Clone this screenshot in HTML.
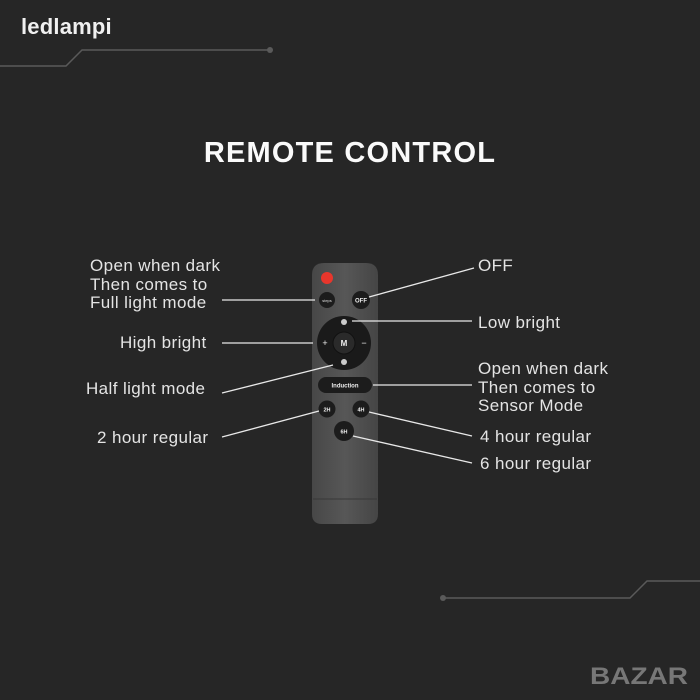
<!DOCTYPE html>
<html><head><meta charset="utf-8"><style>
html,body{margin:0;padding:0}
body{width:700px;height:700px;background:#262626;position:relative;overflow:hidden;font-family:"Liberation Sans",sans-serif}
.t{position:absolute;color:#e4e4e4;font-size:17px;line-height:18.5px;white-space:nowrap;letter-spacing:0.4px}
</style></head><body>
<div style="position:absolute;left:21px;top:14px;color:#f0f0f0;font-size:22px;font-weight:bold;letter-spacing:0.2px">ledlampi</div>
<div style="position:absolute;left:0;width:700px;top:137px;text-align:center;color:#fafafa;font-size:29px;font-weight:bold;letter-spacing:1.2px">REMOTE CONTROL</div>
<svg width="700" height="700" style="position:absolute;left:0;top:0">
<g stroke="#5a5a5a" stroke-width="1.5" fill="none">
<polyline points="0,66 66,66 82,50 270,50"/>
<polyline points="443,598 630,598 647,581 700,581"/>
</g>
<circle cx="270" cy="50" r="3" fill="#5a5a5a"/>
<circle cx="443" cy="598" r="3" fill="#5a5a5a"/>
<text x="590" y="684" font-family="Liberation Sans" font-weight="bold" font-size="24" fill="#777" textLength="98" lengthAdjust="spacingAndGlyphs">BAZAR</text>
<defs><linearGradient id="g" x1="0" x2="1"><stop offset="0" stop-color="#474747"/><stop offset="0.5" stop-color="#575757"/><stop offset="1" stop-color="#454545"/></linearGradient></defs>
<path d="M312,514 L312,275 Q312,263 324,263 L366,263 Q378,263 378,275 L378,514 Q378,524 368,524 L322,524 Q312,524 312,514 Z" fill="url(#g)"/>
<line x1="313" y1="499" x2="377" y2="499" stroke="#383838"/>
<circle cx="327" cy="278" r="6" fill="#e8362c"/>
<circle cx="327" cy="300" r="8" fill="#1c1c1c"/>
<text x="327" y="302" font-size="4" fill="#ddd" text-anchor="middle" font-family="Liberation Sans">steps</text>
<circle cx="361" cy="300" r="9" fill="#1c1c1c"/>
<text x="361" y="302.5" font-size="6" fill="#eee" font-weight="bold" text-anchor="middle" font-family="Liberation Sans">OFF</text>
<circle cx="344" cy="343" r="27" fill="#1a1a1a"/>
<circle cx="344" cy="343" r="11" fill="#2a2a2a" stroke="#111"/>
<text x="344" y="346" font-size="8" fill="#eee" font-weight="bold" text-anchor="middle" font-family="Liberation Sans">M</text>
<circle cx="344" cy="322" r="3" fill="#ccc"/>
<circle cx="344" cy="362" r="3" fill="#ccc"/>
<text x="325" y="346" font-size="9" fill="#eee" text-anchor="middle" font-family="Liberation Sans">+</text>
<text x="364" y="346" font-size="9" fill="#eee" text-anchor="middle" font-family="Liberation Sans">−</text>
<rect x="318" y="377" width="54" height="16" rx="8" fill="#1c1c1c"/>
<text x="345" y="387.5" font-size="6" fill="#eee" font-weight="bold" text-anchor="middle" font-family="Liberation Sans">Induction</text>
<circle cx="327" cy="409" r="8.5" fill="#1c1c1c"/>
<text x="327" y="411.5" font-size="5.5" fill="#eee" font-weight="bold" text-anchor="middle" font-family="Liberation Sans">2H</text>
<circle cx="361" cy="409" r="8.5" fill="#1c1c1c"/>
<text x="361" y="411.5" font-size="5.5" fill="#eee" font-weight="bold" text-anchor="middle" font-family="Liberation Sans">4H</text>
<circle cx="344" cy="431" r="10" fill="#1c1c1c"/>
<text x="344" y="433.5" font-size="5.5" fill="#eee" font-weight="bold" text-anchor="middle" font-family="Liberation Sans">6H</text>
<g stroke="#e8e8e8" stroke-width="1.3">
<line x1="222" y1="300" x2="315" y2="300"/>
<line x1="222" y1="343" x2="313" y2="343"/>
<line x1="222" y1="393" x2="333" y2="365"/>
<line x1="222" y1="437" x2="319" y2="411"/>
<line x1="474" y1="268" x2="369" y2="297"/>
<line x1="352" y1="321" x2="472" y2="321"/>
<line x1="373" y1="385" x2="472" y2="385"/>
<line x1="369" y1="412" x2="472" y2="436"/>
<line x1="353" y1="436" x2="472" y2="463"/>
</g>
</svg>
<div class="t" style="left:90px;top:257px">Open when dark<br>Then comes to<br>Full light mode</div>
<div class="t" style="left:120px;top:334px">High bright</div>
<div class="t" style="left:86px;top:380px">Half light mode</div>
<div class="t" style="left:97px;top:429px">2 hour regular</div>
<div class="t" style="left:478px;top:257px">OFF</div>
<div class="t" style="left:478px;top:314px">Low bright</div>
<div class="t" style="left:478px;top:360px">Open when dark<br>Then comes to<br>Sensor Mode</div>
<div class="t" style="left:480px;top:428px">4 hour regular</div>
<div class="t" style="left:480px;top:455px">6 hour regular</div>
</body></html>
